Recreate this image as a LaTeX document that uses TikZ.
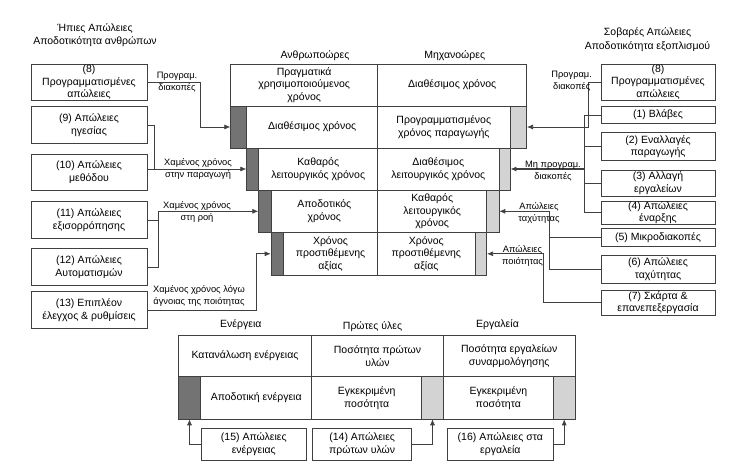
\documentclass[tikz,border=0pt]{standalone}
\usepackage{fontspec}
\setmainfont{Liberation Sans}
\usetikzlibrary{arrows.meta}
\definecolor{linegray}{HTML}{404040}
\definecolor{darkfill}{HTML}{737373}
\definecolor{lightfill}{HTML}{D3D3D3}
\tikzset{
  lossbox/.style={draw=linegray, line width=0.7pt, fill=white, align=center, inner sep=0pt, font=\fontsize{10.5}{12.7}\selectfont},
  darkbar/.style={draw=linegray, line width=0.7pt, fill=darkfill, inner sep=0pt},
  lightbar/.style={draw=linegray, line width=0.7pt, fill=lightfill, inner sep=0pt},
  flownote/.style={align=center, inner sep=0pt, font=\fontsize{9.3}{12}\selectfont},
  heading/.style={align=center, inner sep=0pt, font=\fontsize{10.5}{13.5}\selectfont},
  flow/.style={draw=linegray, line width=0.7pt, -{Latex[length=6pt,width=5pt]}},
  feed/.style={draw=linegray, line width=0.7pt}
}
\newcommand{\oeebox}[5] {\node at (#1) (#2) [lossbox, minimum width=#3pt, minimum height=#4pt] {#5};}
\newcommand{\oeedark}[4] {\node at (#1) (#2) [darkbar, minimum width=#3pt, minimum height=#4pt] {};}
\newcommand{\oeelight}[4] {\node at (#1) (#2) [lightbar, minimum width=#3pt, minimum height=#4pt] {};}
\newcommand{\oeenote}[3] {\node at (#1) (#2) [flownote] {#3};}
\newcommand{\oeehead}[3] {\node at (#1) (#2) [heading] {#3};}

\begin{document}
\begin{tikzpicture}[x=1pt, y=-1pt]
\useasboundingbox (0,0) rectangle (730,473);

\oeehead {95,35} {hsoft} {Ήπιες Απώλειες\\Αποδοτικότητα ανθρώπων};
\oeehead {647.5,39.5} {hhard} {Σοβαρές Απώλειες\\Αποδοτικότητα εξοπλισμού};
\oeehead {315,56} {hman} {Ανθρωποώρες};
\oeehead {454.7,56} {hmach} {Μηχανοώρες};

\oeebox {304.2,85} {c1a} {147} {42} {Πραγματικά\\χρησιμοποιούμενος\\χρόνος};
\oeebox {452.2,85} {c1b} {149} {42} {Διαθέσιμος χρόνος};

\oeedark {238.7,127} {d2} {16} {42};
\oeebox {312.2,127} {c2a} {131} {42} {Διαθέσιμος χρόνος};
\oeebox {443.8,127} {c2b} {132.3} {42} {Προγραμματισμένος\\χρόνος παραγωγής};
\oeelight {518.3,127} {l2} {16.7} {42};

\oeedark {252.7,169} {d3} {12} {42};
\oeebox {318.2,169} {c3a} {119} {42} {Καθαρός\\λειτουργικός χρόνος};
\oeebox {438.3,169} {c3b} {121.3} {42} {Διαθέσιμος\\λειτουργικός χρόνος};
\oeelight {504.5,169} {l3} {11} {42};

\oeedark {264.8,211.3} {d4} {12.3} {42.7};
\oeebox {324.3,211.3} {c4a} {106.7} {42.7} {Αποδοτικός\\χρόνος};
\oeebox {432.2,211.3} {c4b} {109} {42.7} {Καθαρός\\λειτουργικός\\χρόνος};
\oeelight {492.8,211.3} {l4} {12.3} {42.7};

\oeedark {277.2,253.8} {d5} {12.3} {42.3};
\oeebox {330.5,253.8} {c5a} {94.4} {42.3} {Χρόνος\\προστιθέμενης\\αξίας};
\oeebox {426.3,253.8} {c5b} {97.3} {42.3} {Χρόνος\\προστιθέμενης\\αξίας};
\oeelight {480.8,253.8} {l5} {11.7} {42.3};

\oeebox {89,82.3} {L8} {116} {36.5} {(8)\\Προγραμματισμένες\\απώλειες};
\oeebox {89,125} {L9} {116} {36.5} {(9) Απώλειες\\ηγεσίας};
\oeebox {89,172.3} {L10} {116} {36.5} {(10) Απώλειες\\μεθόδου};
\oeebox {89,220} {L11} {116} {36.5} {(11) Απώλειες\\εξισορρόπησης};
\oeebox {89,267} {L12} {116} {36.5} {(12) Απώλειες\\Αυτοματισμών};
\oeebox {89,310} {L13} {116} {36.5} {(13) Επιπλέον\\έλεγχος \& ρυθμίσεις};

\oeebox {658,82} {R8} {114} {36} {(8)\\Προγραμματισμένες\\απώλειες};
\oeebox {658,115} {R1} {114} {16.6} {(1) Βλάβες};
\oeebox {658,146.7} {R2} {114} {28} {(2) Εναλλαγές\\παραγωγής};
\oeebox {658,183.3} {R3} {114} {26.7} {(3) Αλλαγή\\εργαλείων};
\oeebox {658,212.5} {R4} {114} {21.6} {(4) Απώλειες\\έναρξης};
\oeebox {658,237.5} {R5} {114} {18.4} {(5) Μικροδιακοπές};
\oeebox {658,269.2} {R6} {114} {28.3} {(6) Απώλειες\\ταχύτητας};
\oeebox {658,302.5} {R7} {114} {25} {(7) Σκάρτα \&\\επανεπεξεργασία};

\draw [flow] (L8.east) -- ++(53,0) |- (d2.west);
\draw [feed] (L9.east) -- ++(7,0) -- ++(0,44);
\draw [flow] (L10.east |- d3.west) -- (d3.west);
\draw [feed] (L11.east) -- ++(11,0);
\draw [flow] (L12.east) -- ++(11,0) |- (d4.west);
\draw [flow] (L13.east) -- ++(109,0) |- (d5.west);

\oeenote {177,82} {nL8} {Προγραμ.\\διακοπές};
\oeenote {198,169} {nL10} {Χαμένος χρόνος\\στην παραγωγή};
\oeenote {197,211.5} {nL11} {Χαμένος χρόνος\\στη ροή};
\oeenote {199,296} {nL13} {Χαμένος χρόνος λόγω\\άγνοιας της ποιότητας};

\coordinate (bus1) at (585,169);
\draw [flow] (R8.west) -- ++(-12,0) |- (l2.east);
\draw [feed] (R1.west) -- ++(-16,0) |- (R4.west);
\draw [feed] (R2.west) -- ++(-16,0);
\draw [feed] (R3.west) -- ++(-16,0);
\draw [flow, line width=1.2pt] (bus1) -- (l3.east);
\draw [feed] (R5.west) -- ++(-51,0);
\draw [flow] (R6.west) -- ++(-51,0) |- (l4.east);
\draw [flow] (R7.west) -- ++(-57.7,0) |- (l5.east);

\oeenote {571.7,81} {nR8} {Προγραμ.\\διακοπές};
\oeenote {553,171.5} {nR1} {Μη προγραμ.\\διακοπές};
\oeenote {539,212.5} {nR5} {Απώλειες\\ταχύτητας};
\oeenote {522.5,255.5} {nR7} {Απώλειες\\ποιότητας};

\oeehead {240.8,325} {hen} {Ενέργεια};
\oeehead {372.5,326.7} {hraw} {Πρώτες ύλες};
\oeehead {497.5,325} {htool} {Εργαλεία};

\oeebox {245,355.8} {e1} {133.4} {41.7} {Κατανάλωση ενέργειας};
\oeebox {377.5,355.8} {m1} {131.6} {41.7} {Ποσότητα πρώτων\\υλών};
\oeebox {509.2,355.8} {t1} {131.7} {41.7} {Ποσότητα εργαλείων\\συναρμολόγησης};

\oeedark {189.5,397.8} {bd} {22.4} {42.3};
\oeebox {256.2,397.8} {e2} {111} {42.3} {Αποδοτική ενέργεια};
\oeebox {366.7,397.8} {m2} {110} {42.3} {Εγκεκριμένη\\ποσότητα};
\oeelight {432.5,397.8} {bl1} {21.6} {42.3};
\oeebox {498.3,397.8} {t2} {110} {42.3} {Εγκεκριμένη\\ποσότητα};
\oeelight {564.2,397.8} {bl2} {21.7} {42.3};

\oeebox {253.8,444.2} {B15} {105.7} {31.7} {(15) Απώλειες\\ενέργειας};
\oeebox {362.2,444.2} {B14} {99} {31.7} {(14) Απώλειες\\πρώτων υλών};
\oeebox {500.3,444.2} {B16} {106} {31.7} {(16) Απώλειες στα\\εργαλεία};

\draw [flow] (B15.west) -| (bd.south);
\draw [flow] (B14.east) -| (bl1.south);
\draw [flow] (B16.east) -| (bl2.south);
\end{tikzpicture}
\end{document}
